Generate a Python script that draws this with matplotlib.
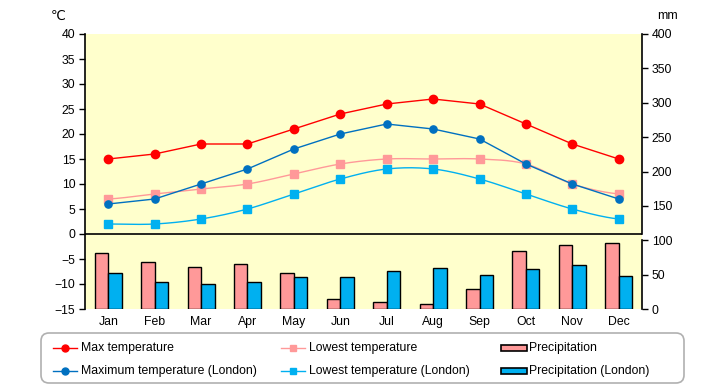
import matplotlib
matplotlib.use('Agg')
import matplotlib.pyplot as plt
import numpy as np
from matplotlib.patches import FancyBboxPatch, Rectangle
from matplotlib.lines import Line2D
from matplotlib.transforms import IdentityTransform

plt.rcParams['font.family'] = ['Liberation Sans', 'DejaVu Sans']

months = ['Jan', 'Feb', 'Mar', 'Apr', 'May', 'Jun', 'Jul', 'Aug', 'Sep', 'Oct', 'Nov', 'Dec']
max_temp = [15, 16, 18, 18, 21, 24, 26, 27, 26, 22, 18, 15]
low_temp = [7, 8, 9, 10, 12, 14, 15, 15, 15, 14, 10, 8]
precip = [82, 69, 61, 65, 52, 15, 10, 8, 29, 85, 93, 96]
max_temp_london = [6, 7, 10, 13, 17, 20, 22, 21, 19, 14, 10, 7]
low_temp_london = [2, 2, 3, 5, 8, 11, 13, 13, 11, 8, 5, 3]
precip_london = [53, 40, 37, 39, 46, 46, 56, 59, 50, 58, 64, 48]

C_RED = '#FF0000'
C_DBLUE = '#0070C0'
C_PINK = '#FF9999'
C_LBLUE = '#00B0F0'

W, H = 720, 385
FS = 8.8


def smooth(y, n=24):
    y = np.asarray(y, dtype=float)
    x = np.arange(len(y), dtype=float)
    xs, ys = [], []
    for i in range(len(y) - 1):
        p0 = y[i - 1] if i > 0 else y[i]
        p1, p2 = y[i], y[i + 1]
        p3 = y[i + 2] if i + 2 < len(y) else y[i + 1]
        t = np.linspace(0, 1, n, endpoint=(i == len(y) - 2))
        yy = 0.5 * ((2 * p1) + (-p0 + p2) * t + (2 * p0 - 5 * p1 + 4 * p2 - p3) * t ** 2
                    + (-p0 + 3 * p1 - 3 * p2 + p3) * t ** 3)
        xs.append(x[i] + t)
        ys.append(yy)
    return np.concatenate(xs), np.concatenate(ys)


fig = plt.figure(figsize=(W / 100, H / 100), dpi=100)
L, R, T, B = 85, 642, 34, 309
ax = fig.add_axes([L / W, 1 - B / H, (R - L) / W, (B - T) / H])
ax.set_facecolor('#FFFFCC')
ax.set_xlim(-0.5, 11.5)
ax.set_ylim(-15, 40)
ax.set_yticks(np.arange(-15, 41, 5))
x = np.arange(len(months))
ax.set_xticks(x)
ax.set_xticklabels(months)
ax.tick_params(axis='x', length=0, pad=5, labelsize=FS)
ax.tick_params(axis='y', direction='out', length=4, width=1, labelsize=FS, pad=3)
for s in ['top', 'bottom', 'right']:
    ax.spines[s].set_visible(False)
ax.spines['left'].set_linewidth(1.2)
ax.axhline(0, color='black', lw=1.2, zorder=3)

ax2 = ax.twinx()
ax2.set_ylim(0, 400)
ax2.set_yticks(np.arange(0, 401, 50))
ax2.tick_params(axis='y', direction='out', length=4, width=1, labelsize=FS, pad=3)
for s in ['top', 'bottom', 'left']:
    ax2.spines[s].set_visible(False)
ax2.spines['right'].set_bounds(0, 100)
ax2.spines['right'].set_linewidth(1.2)
ax2.plot([1, 1], [15 / 55, 1], transform=ax2.transAxes, color='black', lw=1.2, clip_on=False)

bw = 0.29
ax2.bar(x - bw / 2, precip, width=bw, color=C_PINK, edgecolor='black', linewidth=1)
ax2.bar(x + bw / 2, precip_london, width=bw, color=C_LBLUE, edgecolor='black', linewidth=1)

LW = 1.0
sx, sy = smooth(low_temp)
ax2.plot(sx, sy, color=C_PINK, lw=LW, transform=ax.transData, zorder=4)
ax2.plot(x, low_temp, ls='none', marker='s', ms=5.3, color=C_PINK, transform=ax.transData, zorder=5)
sx, sy = smooth(low_temp_london)
ax2.plot(sx, sy, color=C_LBLUE, lw=LW, transform=ax.transData, zorder=4)
ax2.plot(x, low_temp_london, ls='none', marker='s', ms=5.3, color=C_LBLUE, transform=ax.transData, zorder=5)
ax2.plot(x, max_temp_london, color=C_DBLUE, lw=LW, marker='o', ms=5.2, transform=ax.transData, zorder=6)
ax2.plot(x, max_temp, color=C_RED, lw=LW, marker='o', ms=6, transform=ax.transData, zorder=6)

fig.text(58 / W, 1 - 16 / H, '℃', ha='center', va='center', fontsize=9.5, family=['DejaVu Sans'])
fig.text(668 / W, 1 - 16 / H, 'mm', ha='center', va='center', fontsize=FS)

# legend
fig.patches.append(FancyBboxPatch((41, H - 383), 643, 50, boxstyle='round,pad=0,rounding_size=8',
                                  transform=IdentityTransform(), facecolor='white',
                                  edgecolor='#B0B0B0', linewidth=1.2, zorder=1))

def fx(px):
    return px / W

def fy(py):
    return 1 - py / H

entries = [
    (53, 348, 'line', C_RED, 'o', 'Max temperature'),
    (53, 371, 'line', C_DBLUE, 'o', 'Maximum temperature (London)'),
    (281, 348, 'line', C_PINK, 's', 'Lowest temperature'),
    (281, 371, 'line', C_LBLUE, 's', 'Lowest temperature (London)'),
    (501, 348, 'bar', C_PINK, None, 'Precipitation'),
    (501, 371, 'bar', C_LBLUE, None, 'Precipitation (London)'),
]
for px, py, kind, col, mk, label in entries:
    if kind == 'line':
        fig.add_artist(Line2D([fx(px), fx(px + 24)], [fy(py), fy(py)], color=col, lw=1.0,
                              transform=fig.transFigure, zorder=3))
        fig.add_artist(Line2D([fx(px + 12)], [fy(py)], color=col, marker=mk, ms=5,
                              transform=fig.transFigure, zorder=3))
    else:
        fig.add_artist(Rectangle((fx(px), fy(py + 3)), 26 / W, 6 / H, facecolor=col,
                                 edgecolor='black', lw=1.2, transform=fig.transFigure, zorder=3))
    fig.text(fx(px + 28), fy(py), label, ha='left', va='center', fontsize=FS, zorder=3)

fig.savefig('out.png', dpi=100)
